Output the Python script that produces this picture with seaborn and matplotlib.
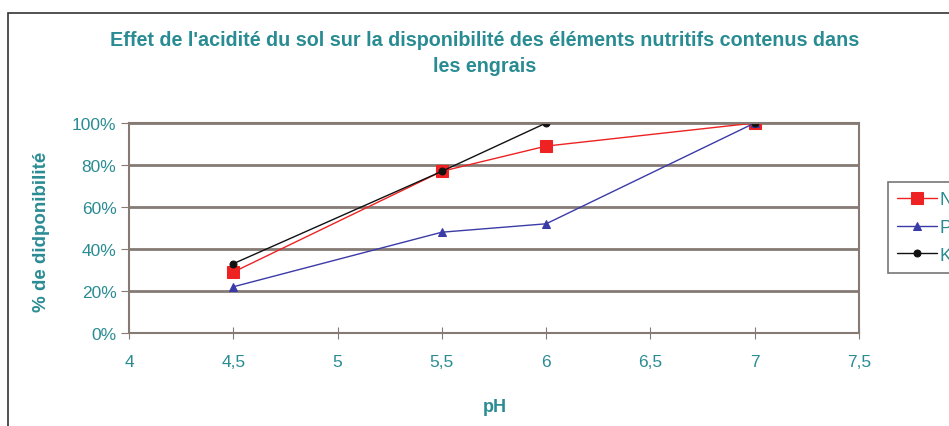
import pandas as pd
import matplotlib.pyplot as plt
import seaborn as sns
from matplotlib.patches import Rectangle
from matplotlib.ticker import PercentFormatter, FuncFormatter

# data
ph = [4.5, 5.5, 6, 7]
n_vals = [29, 77, 89, 100]
p_vals = [22, 48, 52, 100]
k_vals = [33, 77, 100, 100]

teal = "#2a8c93"
grid_col = "#857a74"

df = pd.DataFrame({
    "pH": ph * 3,
    "val": n_vals + p_vals + k_vals,
    "elem": ["N"] * 4 + ["P"] * 4 + ["K"] * 4,
})

sns.set_style("white")
plt.rcParams['font.family'] = ['Liberation Sans', 'DejaVu Sans']

fig = plt.figure(figsize=(9.49, 4.27), dpi=100)
ax = fig.add_axes([129/949, 1-334/427, 730/949, 210/427])

palette = {"N": "#ee2222", "P": "#3b3ba8", "K": "#111111"}
markers = {"N": "s", "P": "^", "K": "o"}
sizes = {"N": 8, "P": 6, "K": 5}

for e in ["N", "P", "K"]:
    sub = df[df["elem"] == e]
    sns.lineplot(data=sub, x="pH", y="val", ax=ax, color=palette[e],
                 marker=markers[e], markersize=sizes[e], markeredgecolor=palette[e],
                 linewidth=1, label=e, legend=False)

ax.set_xlim(4, 7.5)
ax.set_ylim(0, 100)
ax.set_xticks([4, 4.5, 5, 5.5, 6, 6.5, 7, 7.5])
ax.xaxis.set_major_formatter(FuncFormatter(lambda v, p: f"{v:g}".replace(".", ",")))
ax.set_yticks([0, 20, 40, 60, 80, 100])
ax.yaxis.set_major_formatter(PercentFormatter(decimals=0))
ax.grid(axis="y", color=grid_col, linewidth=2)
ax.set_axisbelow(True)
for s in ax.spines.values():
    s.set_color(grid_col)
    s.set_linewidth(1.5)
ax.tick_params(axis="x", direction="inout", length=8, color=grid_col, labelcolor=teal,
               labelsize=12.5, pad=11, bottom=True)
ax.tick_params(axis="y", direction="out", length=6, color=grid_col, labelcolor=teal,
               labelsize=12.5, pad=3, left=True)

ax.set_xlabel("")
ax.set_ylabel("")
fig.text(495/949, 1-408/427, "pH", ha="center", va="center", color=teal,
         fontsize=13, fontweight="bold")
fig.text(42/949, 1-232/427, "% de didponibilité", ha="center", va="center", color=teal,
         fontsize=13.5, fontweight="bold", rotation=90)

fig.text(485/949, 1-40/427, "Effet de l'acidité du sol sur la disponibilité des éléments nutritifs contenus dans",
         ha="center", va="center", color=teal, fontsize=14.2, fontweight="bold")
fig.text(485/949, 1-67/427, "les engrais",
         ha="center", va="center", color=teal, fontsize=14.2, fontweight="bold")

handles, labels = ax.get_legend_handles_labels()
leg = fig.legend(handles, labels, loc="upper left", bbox_to_anchor=(888/949, 1-183/427),
                 borderaxespad=0, frameon=True, fancybox=False, fontsize=13,
                 handlelength=2.2, borderpad=0.5, labelspacing=0.6, handletextpad=0.15)
leg.get_frame().set_edgecolor("#555555")
leg.get_frame().set_linewidth(1.2)
for t in leg.get_texts():
    t.set_color(teal)

# outer chart border
fig.patches.append(Rectangle((8/949, -0.1), 1.2, 1 - 14/427 + 0.1, transform=fig.transFigure,
                             fill=False, edgecolor="#333333", linewidth=1.2))

fig.savefig("out.png", dpi=100)
